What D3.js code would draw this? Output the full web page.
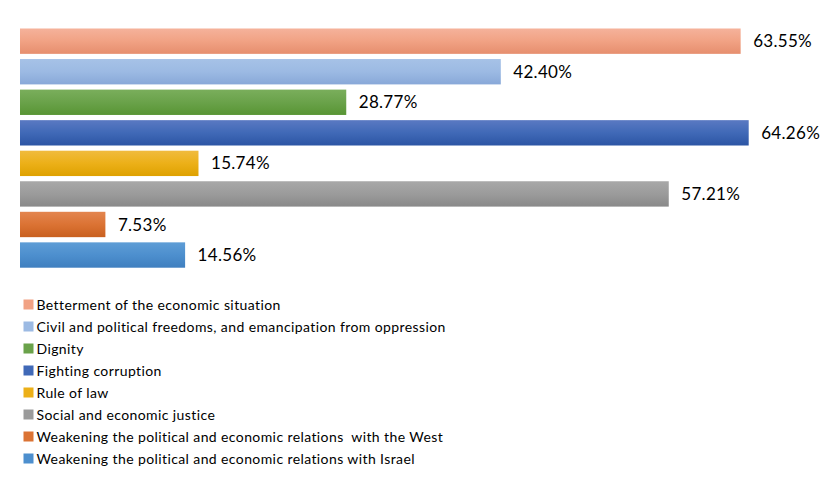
<!DOCTYPE html>
<html>
<head>
<meta charset="utf-8">
<script src="https://cdn.jsdelivr.net/npm/d3@7"></script>
<style>
  body { margin: 0; background: #fff; }
  text { font-family: Lato, "Open Sans", sans-serif; fill: #000; }
</style>
</head>
<body>
<script>
const categories = [
  "Betterment of the economic situation",
  "Civil and political freedoms, and emancipation from oppression",
  "Dignity",
  "Fighting corruption",
  "Rule of law",
  "Social and economic justice",
  "Weakening the political and economic relations  with the West",
  "Weakening the political and economic relations with Israel"
];
const values = [63.55, 42.40, 28.77, 64.26, 15.74, 57.21, 7.53, 14.56];
const colorsTop = ["#f5b29b", "#a6c2e7", "#7aae5c", "#5a79c2", "#f0bb3e", "#a8a8a8", "#e3854f", "#5e9dd6"];
const colorsMid = ["#f1a284", "#9cbae3", "#6aa24a", "#4069b7", "#ecb018", "#9b9b9b", "#db7334", "#4d8fce"];
const colorsBot = ["#e68e6e", "#88a8d8", "#589534", "#2c55a4", "#dea100", "#898989", "#c9601f", "#3f7fbf"];

let WIDTH = 830,
    HEIGHT = 479;

let svg = d3.select("body").append("svg")
  .attr("width", WIDTH)
  .attr("height", HEIGHT);

let x = d3.scaleLinear()
  .domain([0, 64.26])
  .range([20, 748.7]);

let y = d3.scaleBand()
  .domain(categories)
  .range([23.3, 272.9])
  .padding(0.17);

// vertical gradients like the original office chart
let defs = svg.append("defs");
categories.forEach((c, i) => {
  let g = defs.append("linearGradient")
    .attr("id", "grad" + i)
    .attr("x1", 0).attr("y1", 0)
    .attr("x2", 0).attr("y2", 1);
  g.append("stop").attr("offset", "0%").attr("stop-color", colorsTop[i]);
  g.append("stop").attr("offset", "50%").attr("stop-color", colorsMid[i]);
  g.append("stop").attr("offset", "100%").attr("stop-color", colorsBot[i]);
});

svg.selectAll(".bar")
  .data(values)
.enter().append("rect")
  .attr("class", "bar")
  .attr("x", x(0))
  .attr("y", (d, i) => y(categories[i]))
  .attr("width", d => x(d) - x(0))
  .attr("height", y.bandwidth())
  .style("fill", (d, i) => "url(#grad" + i + ")");

svg.selectAll(".val")
  .data(values)
.enter().append("text")
  .attr("class", "val")
  .attr("x", d => x(d) + 12.5)
  .attr("y", (d, i) => y(categories[i]) + y.bandwidth() / 2)
  .attr("dy", "0.36em")
  .style("font-size", "17px")
  .style("letter-spacing", "0.3px")
  .text(d => d.toFixed(2) + "%");

// legend
let legend = svg.selectAll(".leg")
  .data(categories)
.enter().append("g")
  .attr("class", "leg")
  .attr("transform", (d, i) => "translate(23.5," + (304.5 + i * 22) + ")");

legend.append("rect")
  .attr("y", -5)
  .attr("width", 10)
  .attr("height", 10)
  .style("fill", (d, i) => colorsMid[i]);

legend.append("text")
  .attr("x", 13)
  .attr("dy", "0.36em")
  .style("font-size", "14px")
  .style("letter-spacing", "0.4px")
  .style("white-space", "pre")
  .text(d => d);
</script>
</body>
</html>
